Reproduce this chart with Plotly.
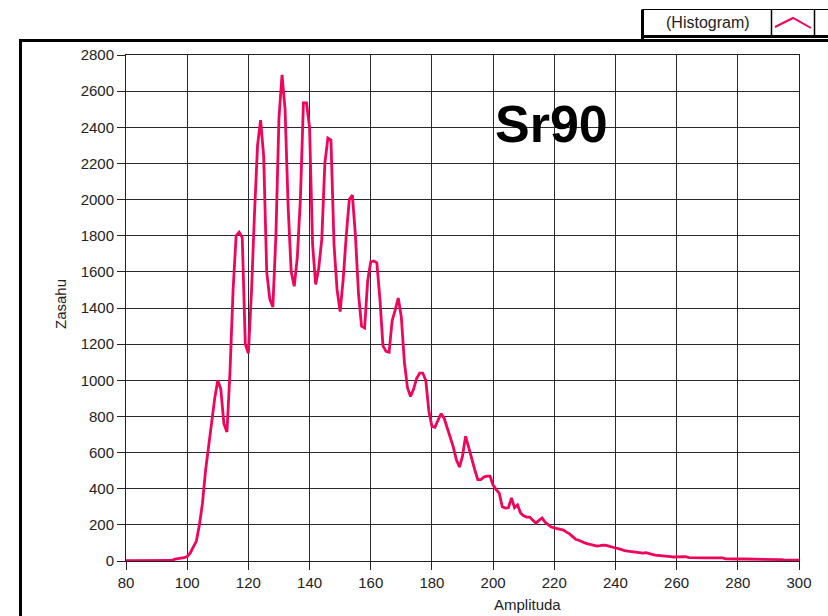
import plotly.graph_objects as go

# ---- data ----
amplitude = list(range(80, 301))
counts = [
    2, 2, 2, 2, 2, 2, 2, 2, 2, 2,                      # 80-89
    2, 2, 2, 2, 2, 3, 10, 15, 16, 18,                  # 90-99
    25, 45, 77, 110, 200, 320, 500, 640, 760, 900,     # 100-109
    1000, 950, 760, 714, 1050, 1500, 1800, 1820, 1790, 1200,   # 110-119
    1150, 1480, 1920, 2300, 2440, 2240, 1600, 1450, 1405, 1800,  # 120-129
    2450, 2690, 2500, 1960, 1600, 1520, 1680, 2000, 2535, 2535,  # 130-139
    2400, 1750, 1530, 1620, 1780, 2200, 2340, 2330, 1750, 1500,  # 140-149
    1380, 1560, 1800, 2000, 2025, 1800, 1480, 1300, 1290, 1550,  # 150-159
    1655, 1660, 1650, 1450, 1190, 1160, 1155, 1330, 1390, 1455,  # 160-169
    1350, 1100, 960, 910, 950, 1010, 1040, 1040, 1000, 830,      # 170-179
    745, 740, 780, 815, 790, 735, 680, 630, 560, 520,            # 180-189
    580, 690, 630, 560, 505, 450, 450, 465, 470, 470,            # 190-199
    420, 395, 376, 300, 293, 295, 349, 295, 310, 265,            # 200-209
    250, 243, 243, 225, 210, 225, 238, 215, 200, 188,            # 210-219
    183, 180, 175, 171, 160, 150, 135, 120, 115, 106,            # 220-229
    100, 95, 90, 84, 83, 85, 88, 86, 80, 76,                     # 230-239
    72, 68, 62, 58, 55, 52, 50, 48, 46, 44,                      # 240-249
    46, 40, 37, 33, 32, 30, 28, 26, 24, 22,                      # 250-259
    22, 20, 21, 24, 19, 18, 17, 17, 17, 17,                      # 260-269
    17, 17, 17, 17, 17, 17, 12, 11, 11, 11,                      # 270-279
    11, 11, 11, 11, 8, 8, 8, 8, 8, 8,                            # 280-289
    8, 8, 8, 8, 8, 6, 6, 5, 5, 5,                                # 290-299
    5,                                                           # 300
]
x_ticks = [80, 100, 120, 140, 160, 180, 200, 220, 240, 260, 280, 300]
y_ticks = [0, 200, 400, 600, 800, 1000, 1200, 1400, 1600, 1800, 2000, 2200, 2400, 2600, 2800]
series_name = "(Histogram)"
x_title = "Amplituda"
y_title = "Zasahu"
label_text = "Sr90"

# ---- layout geometry (pixels) ----
W, H = 828, 616
L, R, T, B = 126, 799, 55, 561
pw, ph = R - L, B - T


def px(x):
    return (x - L) / pw


def py(y):
    return (B - y) / ph


PINK = "#F0055C"
FONT = "Liberation Sans, Arial, sans-serif"

fig = go.Figure()
fig.add_trace(go.Scatter(
    x=amplitude[:len(counts)], y=counts, mode="lines",
    line=dict(color=PINK, width=2.8), name=series_name, showlegend=False,
    hoverinfo="skip",
))

axis_common = dict(
    showgrid=True, gridcolor="#2a2a2a", gridwidth=1,
    showline=True, linecolor="#222", linewidth=1, mirror=True,
    ticks="outside", ticklen=8, tickcolor="#222", tickwidth=1,
    tickfont=dict(family=FONT, size=15, color="#222"),
    zeroline=False,
)
fig.update_xaxes(range=[80, 300], tickvals=x_ticks, **axis_common)
fig.update_yaxes(range=[0, 2800], tickvals=y_ticks, **axis_common)

shapes = []
# outer frame (thick left and top lines)
shapes.append(dict(type="line", xref="paper", yref="paper",
                   x0=px(20.5), x1=px(20.5), y0=py(39), y1=py(630),
                   line=dict(color="black", width=3)))
shapes.append(dict(type="line", xref="paper", yref="paper",
                   x0=px(19), x1=px(840), y0=py(40.5), y1=py(40.5),
                   line=dict(color="black", width=3)))
# legend box
shapes.append(dict(type="rect", xref="paper", yref="paper",
                   x0=px(642.5), x1=px(840), y0=py(37), y1=py(9.5),
                   line=dict(color="black", width=1), fillcolor="white"))
shapes.append(dict(type="line", xref="paper", yref="paper",
                   x0=px(642.5), x1=px(642.5), y0=py(9.5), y1=py(40),
                   line=dict(color="black", width=3)))
shapes.append(dict(type="line", xref="paper", yref="paper",
                   x0=px(642), x1=px(840), y0=py(36.5), y1=py(36.5),
                   line=dict(color="black", width=3)))
for sx in (771.5, 814.5):
    shapes.append(dict(type="line", xref="paper", yref="paper",
                       x0=px(sx), x1=px(sx), y0=py(9.5), y1=py(37),
                       line=dict(color="black", width=1.5)))
shapes.append(dict(type="path", xref="paper", yref="paper",
                   path=f"M {px(775)} {py(27)} L {px(793)} {py(18)} L {px(811)} {py(28)}",
                   line=dict(color=PINK, width=2)))

annotations = [
    dict(text=series_name, xref="paper", yref="paper", x=px(708), y=py(23),
         showarrow=False, xanchor="center", yanchor="middle",
         font=dict(family=FONT, size=16, color="#222")),
    dict(text=x_title, xref="paper", yref="paper", x=px(527), y=py(604),
         showarrow=False, xanchor="center", yanchor="middle",
         font=dict(family=FONT, size=15, color="#222")),
    dict(text=y_title, xref="paper", yref="paper", x=px(60), y=py(304),
         showarrow=False, xanchor="center", yanchor="middle", textangle=-90,
         font=dict(family=FONT, size=15, color="#222")),
    dict(text=f"<b>{label_text}</b>", xref="paper", yref="paper", x=px(551), y=py(124),
         showarrow=False, xanchor="center", yanchor="middle",
         font=dict(family=FONT, size=52, color="black")),
]

fig.update_layout(
    width=W, height=H,
    margin=dict(l=L, r=W - R, t=T, b=H - B, pad=0),
    paper_bgcolor="white", plot_bgcolor="white",
    shapes=shapes, annotations=annotations, showlegend=False,
)

fig.write_html(
    "out.html",
    config={"displayModeBar": False, "staticPlot": True},
    post_script="document.body.style.margin='0';document.body.style.overflow='hidden';",
)
